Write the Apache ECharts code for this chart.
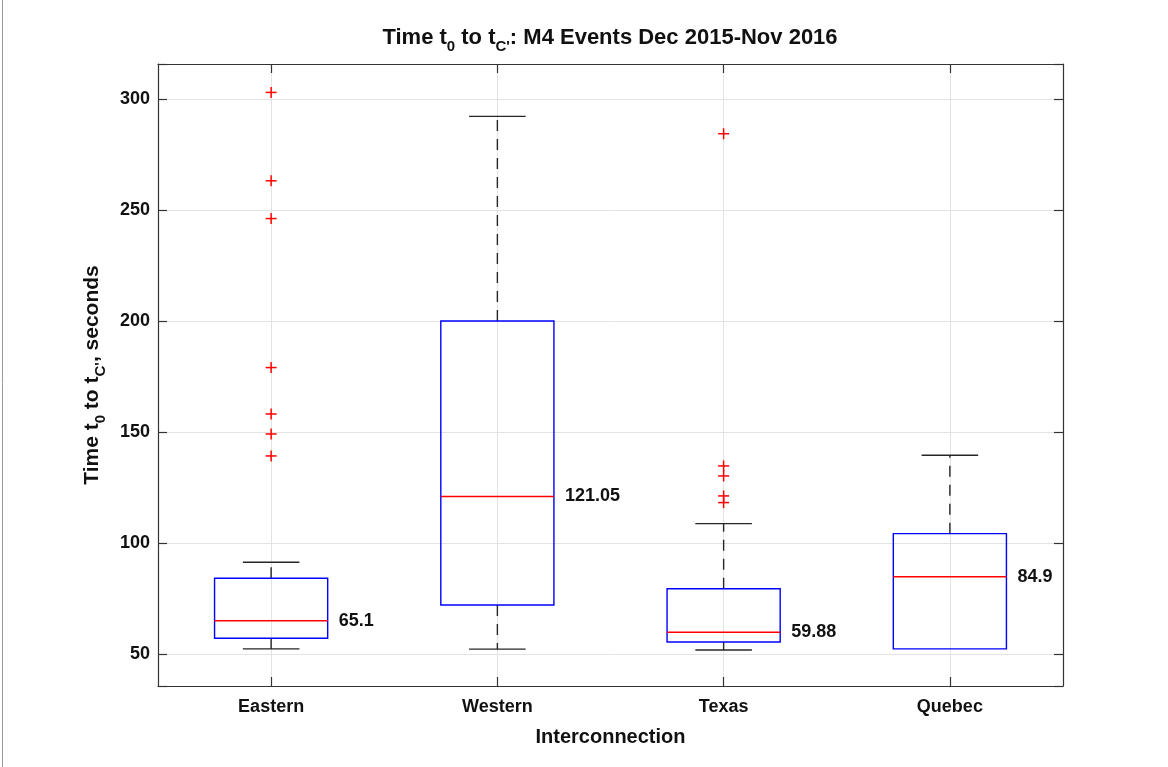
<!DOCTYPE html>
<html>
<head>
<meta charset="utf-8">
<script src="https://cdn.jsdelivr.net/npm/echarts@6/dist/echarts.min.js"></script>
<style>
html,body{margin:0;padding:0;background:#fff;}
#chart{width:1168px;height:767px;}
</style>
</head>
<body>
<div id="chart"></div>
<script>
// ---- data ----
const categories = ['Eastern', 'Western', 'Texas', 'Quebec'];
const whiskerLow = [52.4, 52.3, 51.9, 52.4];
const q1 = [57.2, 72.2, 55.5, 52.4];
const medians = [65.1, 121.05, 59.88, 84.9];
const q3 = [84.2, 200.1, 79.5, 104.3];
const whiskerHigh = [91.4, 292.2, 108.8, 139.6];
const medianLabels = ['65.1', '121.05', '59.88', '84.9'];
const outliersEastern = [303.0, 263.2, 246.2, 179.1, 158.2, 149.2, 139.3];
const outliersWestern = [];
const outliersTexas = [284.4, 134.8, 130.3, 121.3, 118.3];
const outliersQuebec = [];
const yMin = 35.7;
const yMax = 315.8;

const FONT = 'Arial, "Liberation Sans", Helvetica, sans-serif';
const TXT = '#111111';

const boxData = categories.map((c, i) => [i, whiskerLow[i], q1[i], medians[i], q3[i], whiskerHigh[i], medianLabels[i]]);
const outlierLists = [outliersEastern, outliersWestern, outliersTexas, outliersQuebec];
const outlierData = [];
outlierLists.forEach((arr, i) => arr.forEach(v => outlierData.push([i, v])));

const chart = echarts.init(document.getElementById('chart'), null, {renderer: 'canvas'});

function renderBox(params, api) {
  const idx = api.value(0);
  const lo = api.coord([idx, api.value(1)]);
  const b1 = api.coord([idx, api.value(2)]);
  const md = api.coord([idx, api.value(3)]);
  const b3 = api.coord([idx, api.value(4)]);
  const hi = api.coord([idx, api.value(5)]);
  const band = api.size([1, 0])[0];
  const halfBox = band * 0.25;
  const halfCap = band * 0.125;
  const cx = lo[0];
  const dash = [11, 8];
  const whiskerStyle = {stroke: '#262626', lineWidth: 1.4, lineDash: dash};
  const capStyle = {stroke: '#262626', lineWidth: 1.4};
  const children = [];
  if (b3[1] - hi[1] > 0.5) {
    children.push({type: 'line', shape: {x1: cx, y1: b3[1], x2: cx, y2: hi[1]}, style: whiskerStyle});
  }
  if (lo[1] - b1[1] > 0.5) {
    children.push({type: 'line', shape: {x1: cx, y1: b1[1], x2: cx, y2: lo[1]}, style: whiskerStyle});
  }
  children.push({type: 'line', shape: {x1: cx - halfCap, y1: hi[1], x2: cx + halfCap, y2: hi[1]}, style: capStyle});
  if (lo[1] - b1[1] > 0.5) {
    children.push({type: 'line', shape: {x1: cx - halfCap, y1: lo[1], x2: cx + halfCap, y2: lo[1]}, style: capStyle});
  }
  children.push({type: 'rect', shape: {x: cx - halfBox, y: b3[1], width: halfBox * 2, height: b1[1] - b3[1]},
    style: {fill: 'none', stroke: '#0000ff', lineWidth: 1.4}});
  children.push({type: 'line', shape: {x1: cx - halfBox, y1: md[1], x2: cx + halfBox, y2: md[1]},
    style: {stroke: '#ff0000', lineWidth: 1.4}});
  children.push({type: 'text', x: cx + halfBox + 11, y: md[1],
    style: {text: api.value(6), fill: TXT, font: 'bold 18px ' + FONT,
      align: 'left', verticalAlign: 'middle', textAlign: 'left', textVerticalAlign: 'middle'}});
  return {type: 'group', children: children};
}

function renderPlus(params, api) {
  const p = api.coord([api.value(0), api.value(1)]);
  const h = 5.5;
  const st = {stroke: '#ff0000', lineWidth: 1.5};
  return {type: 'group', children: [
    {type: 'line', shape: {x1: p[0] - h, y1: p[1], x2: p[0] + h, y2: p[1]}, style: st},
    {type: 'line', shape: {x1: p[0], y1: p[1] - h, x2: p[0], y2: p[1] + h}, style: st}
  ]};
}

const axisLineStyle = {color: '#333', width: 1.2};
const gridLine = {show: true, lineStyle: {color: '#e3e3e3', width: 1}};

const option = {
  backgroundColor: '#ffffff',
  animation: false,
  title: {
    text: "Time t{sub|0} to t{sub|C'}: M4 Events Dec 2015-Nov 2016",
    left: 610,
    textAlign: 'center',
    top: 22,
    padding: 0,
    textStyle: {fontSize: 22, fontWeight: 'bold', fontFamily: FONT, color: TXT,
      rich: {sub: {fontSize: 15, fontWeight: 'bold', fontFamily: FONT, color: TXT, padding: [17, 0, 0, 0]}}}
  },
  grid: {left: 158, right: 105, top: 64, bottom: 81, containLabel: false},
  xAxis: [{
    type: 'category',
    data: categories,
    position: 'bottom',
    boundaryGap: true,
    name: 'Interconnection',
    nameLocation: 'middle',
    nameGap: 41,
    nameTextStyle: {fontSize: 20, fontWeight: 'bold', fontFamily: FONT, color: TXT},
    axisLine: {show: true, lineStyle: axisLineStyle},
    axisTick: {show: true, inside: true, alignWithLabel: true, length: 9, lineStyle: axisLineStyle},
    axisLabel: {fontSize: 18, fontWeight: 'bold', fontFamily: FONT, color: TXT, margin: 12},
    splitLine: {show: true, alignWithLabel: true, lineStyle: {color: '#e3e3e3', width: 1}}
  }, {
    type: 'category',
    data: categories,
    position: 'top',
    boundaryGap: true,
    axisLine: {show: true, lineStyle: axisLineStyle},
    axisTick: {show: true, inside: true, alignWithLabel: true, length: 9, lineStyle: axisLineStyle},
    axisLabel: {show: false},
    splitLine: {show: false}
  }],
  yAxis: [{
    type: 'value',
    min: yMin,
    max: yMax,
    position: 'left',
    name: "Time t{sub|0} to t{sub|C'}, seconds",
    nameLocation: 'middle',
    nameGap: 50,
    nameRotate: 90,
    nameTextStyle: {fontSize: 21, fontWeight: 'bold', fontFamily: FONT, color: TXT,
      rich: {sub: {fontSize: 15, fontWeight: 'bold', fontFamily: FONT, color: TXT, padding: [16, 0, 0, 0]}}},
    axisLine: {show: true, lineStyle: axisLineStyle},
    axisTick: {show: true, inside: true, length: 9, lineStyle: axisLineStyle},
    axisLabel: {fontSize: 18, fontWeight: 'bold', fontFamily: FONT, color: TXT, margin: 8,
      formatter: v => (Math.abs(v % 50) < 1e-6 ? String(v) : '')},
    splitLine: gridLine
  }, {
    type: 'value',
    min: yMin,
    max: yMax,
    position: 'right',
    axisLine: {show: true, lineStyle: axisLineStyle},
    axisTick: {show: true, inside: true, length: 9, lineStyle: axisLineStyle},
    axisLabel: {show: false},
    splitLine: {show: false}
  }],
  graphic: [{
    type: 'line', shape: {x1: 2.5, y1: 0, x2: 2.5, y2: 767}, style: {stroke: '#9a9a9a', lineWidth: 1}, silent: true
  }],
  series: [{
    type: 'custom',
    name: 'box',
    xAxisIndex: 0,
    yAxisIndex: 0,
    renderItem: renderBox,
    encode: {x: 0, y: [1, 2, 3, 4, 5]},
    data: boxData,
    z: 5
  }, {
    type: 'custom',
    name: 'outliers',
    xAxisIndex: 0,
    yAxisIndex: 0,
    renderItem: renderPlus,
    encode: {x: 0, y: 1},
    data: outlierData,
    z: 6
  }]
};
chart.setOption(option);
</script>
</body>
</html>
